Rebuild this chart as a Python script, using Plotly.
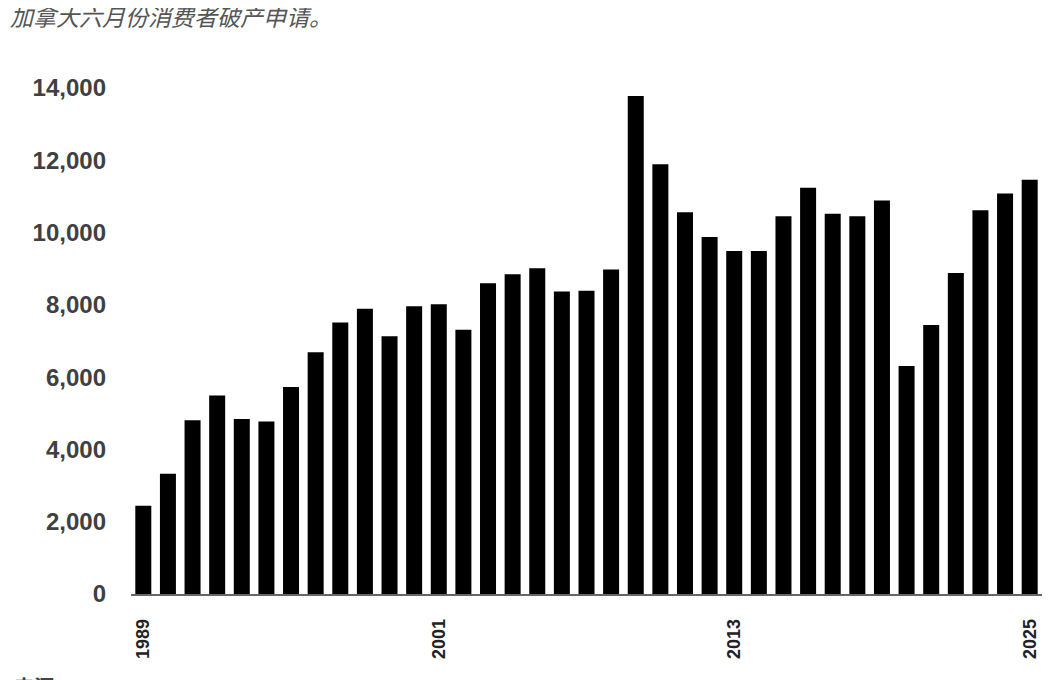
import plotly.graph_objects as go

years = list(range(1989, 2026))
filings = [2440, 3330, 4810, 5490, 4840, 4770, 5730, 6690, 7510, 7890,
           7130, 7960, 8020, 7310, 8600, 8850, 9010, 8370, 8390, 8980,
           13780, 11890, 10560, 9880, 9490, 9490, 10450, 11240, 10520, 10450,
           10890, 6310, 7440, 8880, 10620, 11080, 11460]
x_tickvals = [1989, 2001, 2013, 2025]
y_tickvals = [0, 2000, 4000, 6000, 8000, 10000, 12000, 14000]
title_text = "加拿大六月份消费者破产申请。"
source_text = "来源：OSB、Better Dwelling"

# page body has an 8px margin; size the figure to fill the rest
W, H = 1048, 672
L, R, T, B = 123, 14, 80, 86
pw, ph = W - L - R, H - T - B

fig = go.Figure()
fig.add_trace(go.Bar(x=years, y=filings, marker=dict(color="black", line=dict(width=0))))

fig.update_layout(
    width=W, height=H,
    margin=dict(l=L, r=R, t=T, b=B),
    paper_bgcolor="white", plot_bgcolor="white",
    bargap=0.35, showlegend=False,
    font=dict(family="Liberation Sans, Arial, sans-serif"),
    annotations=[
        dict(text=title_text, xref="paper", yref="paper", x=-L / pw, y=1 + (T - 8) / ph,
             xanchor="left", yanchor="middle", showarrow=False,
             font=dict(family="Noto Sans CJK SC", size=23, color="#555555", style="italic")),
        dict(text="<b>" + source_text + "</b>", xref="paper", yref="paper", x=-(L - 4) / pw,
             y=-(B - 5) / ph, xanchor="left", yanchor="top", showarrow=False,
             font=dict(family="Liberation Sans, Noto Sans CJK SC", size=20, color="#444444")),
    ],
)

fig.update_xaxes(
    range=[1988.5, 2025.5], tickmode="array", tickvals=x_tickvals,
    ticktext=[str(v) for v in x_tickvals], tickangle=-90,
    tickfont=dict(size=18, color="#222222", family="Liberation Sans, Arial", weight="bold"),
    showline=True, linecolor="#666666", linewidth=1.5,
    showgrid=False, zeroline=False, ticks="", ticklabelstandoff=16,
)
fig.update_yaxes(
    range=[0, 14000], tickmode="array", tickvals=y_tickvals,
    tickformat=",", showgrid=False, zeroline=False, showline=False, ticks="",
    tickfont=dict(size=24, color="#404040", family="Liberation Sans, Arial", weight="bold"),
    ticklabelstandoff=24,
)

fig.write_html("out.html")
